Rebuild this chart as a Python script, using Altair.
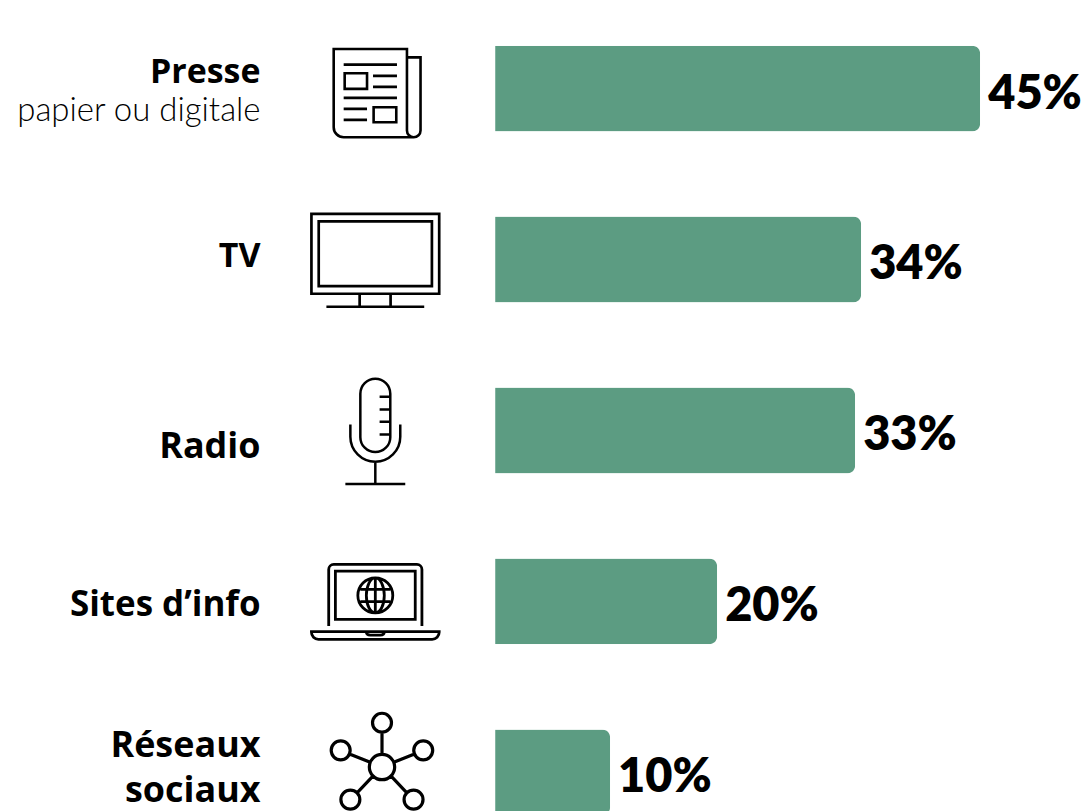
import altair as alt
import pandas as pd

categories = ["Presse", "TV", "Radio", "Sites d’info", "Réseaux sociaux"]
bar_lengths = [45.0, 33.96, 33.4, 20.6, 10.67]
value_labels = ["45%", "34%", "33%", "20%", "10%"]

label_rows = ["Presse", "Presse", "TV", "Radio", "Sites d’info", "Réseaux sociaux", "Réseaux sociaux"]
label_texts = ["Presse", "papier ou digitale", "TV", "Radio", "Sites d’info", "Réseaux", "sociaux"]

GREEN = "#5C9C82"
FONT = "Lato"
LABEL_FONT = "Open Sans"
X_SCALE = alt.Scale(domain=[0, 45], range=[488, 974])
Y_SCALE = alt.Scale(type="point", domain=categories, range=[80, 765], padding=0)


def circle(cx, cy, r):
    return f"M{cx - r},{cy}A{r},{r} 0 1 1 {cx + r},{cy}A{r},{r} 0 1 1 {cx - r},{cy}Z"


def rect(x0, y0, x1, y1):
    return f"M{x0},{y0}H{x1}V{y1}H{x0}Z"


def hline(x0, x1, y):
    return f"M{x0},{y}H{x1}"


newspaper = (
    "M31.7,-31.3H45.3V41.9A6.8,6.8 0 0 1 31.7,41.9V-39.7H-41.7V38.7A10,10 0 0 0 -31.7,48.7H38.5"
    + hline(-31.7, 21.7, -24) + rect(-30.7, -15.3, -8.3, 0.3)
    + hline(-2.3, 21.7, -12.7) + hline(-2.3, 21.7, -1.7)
    + hline(-31.7, 21.7, 9.3) + hline(-31.7, -8.3, 20.3) + hline(-31.7, -8.3, 31.3)
    + rect(-1.7, 18.7, 21, 33.7)
)
tv = (
    rect(-64, -45.7, 64, 34.3) + rect(-56.7, -38.3, 56.7, 26.7)
    + "M-15.7,34.3V47.3M15.3,34.3V47.3" + hline(-49, 49, 47.3)
)
mic = (
    "M-15,-36.7A15,15 0 0 1 15,-36.7V6.7A15,15 0 0 1 -15,6.7Z"
    + hline(4.3, 15, -33.7) + hline(4.3, 15, -21) + hline(4.3, 15, -8.7) + hline(4.3, 15, 4)
    + "M-25,-6V6.3A25,25 0 0 0 25,6.3V-6"
    + "M0,31.3V53.7" + hline(-30, 30, 53.7)
)
laptop = (
    "M-46.7,24.7V-32A5,5 0 0 1 -41.7,-37H41.7A5,5 0 0 1 46.7,-32V24.7"
    + rect(-40, -30.3, 40, 18)
    + circle(0, -6, 17.5)
    + "M0,-23.5A9,17.5 0 0 1 0,11.5A9,17.5 0 0 1 0,-23.5Z"
    + "M0,-23.5V11.5" + hline(-15, 15, -12) + hline(-15, 15, 0.3)
    + "M-64,30.3H64V31A7,7 0 0 1 57,38H-57A7,7 0 0 1 -64,31Z"
    + "M-9,30.3Q-9,33.7 -5,33.7H5Q9,33.7 9,30.3"
)
network = (
    circle(6.7, -5.3, 12.7)
    + circle(6.7, -49.7, 9.5) + "M6.7,-18V-40.2"
    + circle(-34.7, -22, 9.5) + "M-5.1,-10.1L-25.9,-18.4"
    + circle(48, -22, 9.5) + "M18.5,-10.1L39.2,-18.4"
    + circle(-25, 27.3, 9.5) + "M-2.2,3.6L-18.3,20.6"
    + circle(38.3, 27.3, 9.5) + "M15.6,3.6L31.6,20.6"
)
icons = [newspaper, tv, mic, laptop, network]
icon_strokes = [2.6, 2.7, 2.5, 2.8, 3.2]

bars_df = pd.DataFrame({"cat": categories, "len": bar_lengths, "lab": value_labels})

bars = alt.Chart(bars_df).mark_bar(
    size=86, color=GREEN, cornerRadiusTopRight=8, cornerRadiusBottomRight=8
).encode(
    x=alt.X("len:Q", scale=X_SCALE, axis=None),
    y=alt.Y("cat:N", scale=Y_SCALE, axis=None),
)

values = alt.Chart(bars_df).mark_text(
    align="left", baseline="middle", dx=8, dy=6, font=FONT, fontSize=47, fontWeight=800, color="#000000"
).encode(
    x=alt.X("len:Q", scale=X_SCALE, axis=None),
    y=alt.Y("cat:N", scale=Y_SCALE, axis=None),
    text="lab:N",
)

layers = [bars, values]

label_dy = [-16, 22, -3, 17, 4, -26, 19]
label_size = [34, 33, 34, 36, 35, 36, 36]
label_weight = [700, 300, 700, 700, 700, 700, 700]
label_font = [LABEL_FONT, FONT, LABEL_FONT, LABEL_FONT, LABEL_FONT, LABEL_FONT, LABEL_FONT]
for row, txt, dy, fs, fw, ff in zip(label_rows, label_texts, label_dy, label_size, label_weight, label_font):
    layers.append(
        alt.Chart(pd.DataFrame({"cat": [row], "t": [txt]})).mark_text(
            align="right", baseline="middle", dy=dy, font=ff, fontSize=fs, fontWeight=fw, color="#000000"
        ).encode(
            x=alt.value(253),
            y=alt.Y("cat:N", scale=Y_SCALE, axis=None),
            text="t:N",
        )
    )

for cat, path, sw in zip(categories, icons, icon_strokes):
    layers.append(
        alt.Chart(pd.DataFrame({"cat": [cat]})).mark_point(
            shape=path, size=4, filled=False, stroke="#000000", strokeWidth=sw, opacity=1
        ).encode(
            x=alt.value(368),
            y=alt.Y("cat:N", scale=Y_SCALE, axis=None),
        )
    )

chart = alt.layer(*layers).properties(
    width=1075, height=803, padding=0, autosize=alt.AutoSizeParams(type="none"), background="#ffffff"
).configure_view(stroke=None)

chart.save("out.html", embed_options={"renderer": "svg", "actions": False})
